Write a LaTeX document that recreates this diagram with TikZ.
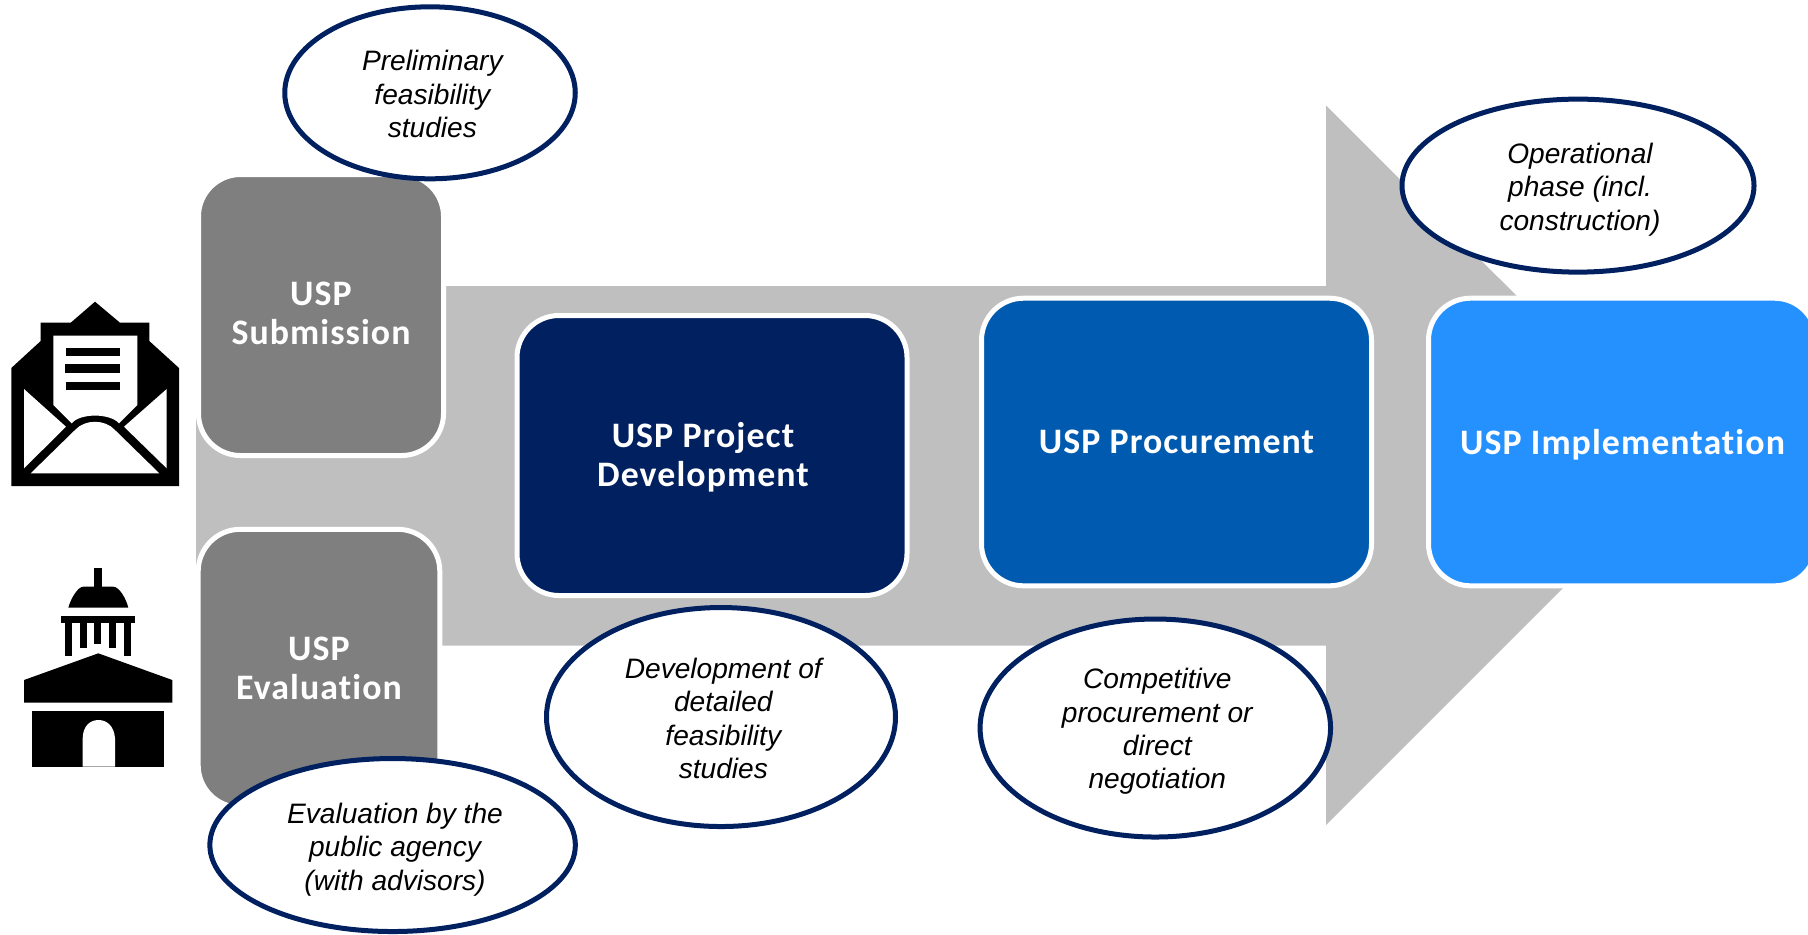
\documentclass[tikz,border=0pt]{standalone}
\usepackage{fontspec}
\setmainfont{Liberation Sans}
\newfontfamily\stagefont[LetterSpace=3,Ligatures=NoCommon]{Carlito}
\usepackage{tikz}
\usetikzlibrary{shapes.geometric,positioning,calc}
\definecolor{arrowgray}{HTML}{BFBFBF}
\definecolor{boxgray}{HTML}{7F7F7F}
\definecolor{uspnavy}{HTML}{002060}
\definecolor{uspblue}{HTML}{005BB0}
\definecolor{usplight}{HTML}{2491FF}
\tikzset{
	stagetext/.style={align=center,text=white,font=\stagefont\fontsize{10.2}{11.1}\bfseries\selectfont,inner sep=0pt},
	stagebox/.style={stagetext,draw=white,line width=0.05cm,rounded corners=0.42cm},
	noteoval/.style={ellipse,draw=uspnavy,fill=white,line width=0.05cm,inner sep=0pt},
	notetext/.style={align=center,inner sep=0pt,font=\fontsize{8}{9.5}\itshape\selectfont},
}
\begin{document}
\begin{tikzpicture}[x=1cm,y=-1cm]
	\useasboundingbox (0,0) rectangle (18.08,9.34);
	%big arrow behind the stages
	\fill[arrowgray] (1.96,2.86) -- (13.26,2.86) -- (13.26,1.055) -- (16.86,4.65) -- (13.26,8.25) -- (13.26,6.457) -- (1.96,6.457) -- cycle;

	%stages
	\node[stagebox,fill=boxgray,minimum width=2.45cm,minimum height=2.81cm] (submission) at (3.21,3.15) {};
	\node[stagetext] (submissiontext) at (3.21,3.13) {USP\\Submission};
	\node[stagebox,fill=boxgray,minimum width=2.416cm,minimum height=2.78cm] (evaluation) at (3.19,6.683) {USP\\Evaluation};
	\node[stagebox,fill=uspnavy,minimum width=3.90cm,minimum height=2.80cm] (development) at (7.12,4.555) {};
	\node[stagetext] (developmenttext) at (7.03,4.57) {USP Project\\Development};
	\node[stagebox,fill=uspblue,minimum width=3.90cm,minimum height=2.876cm] (procurement) at (11.765,4.42) {USP Procurement};
	\node[stagebox,fill=usplight,text depth=0pt,minimum width=3.88cm,minimum height=2.876cm] (implementation) at (16.225,4.42) {USP Implementation};

	%notes
	\node[noteoval,minimum width=2.905cm,minimum height=1.72cm] (feasibility) at (4.30,0.928) {};
	\node[notetext] (feasibilitytext) at (4.323,0.942) {Preliminary\\feasibility\\studies};
	\node[noteoval,minimum width=3.52cm,minimum height=1.73cm] (operational) at (15.78,1.856) {};
	\node[notetext] (operationaltext) at (15.80,1.896) {Operational\\phase (incl.\\construction)};
	\node[noteoval,minimum width=3.49cm,minimum height=2.19cm] (detailed) at (7.21,7.17) {};
	\node[notetext] (detailedtext) at (7.233,7.185) {Development of\\detailed\\feasibility\\studies};
	\node[noteoval,minimum width=3.505cm,minimum height=2.18cm] (negotiation) at (11.553,7.28) {};
	\node[notetext] (negotiationtext) at (11.573,7.315) {Competitive\\procurement or\\direct\\negotiation};
	\node[noteoval,minimum width=3.655cm,minimum height=1.73cm] (agency) at (3.926,8.45) {};
	\node[notetext] (agencytext) at (3.95,8.496) {Evaluation by the\\public agency\\(with advisors)};

	%envelope
	\fill[black] (0.113,3.68) -- (0.407,3.41) -- (0.407,3.227) -- (0.707,3.227) -- (0.95,3.017) -- (1.20,3.227) -- (1.493,3.227) -- (1.493,3.41) -- (1.79,3.68) -- (1.79,4.86) -- (0.113,4.86) -- cycle;
	\fill[white] (0.533,3.357) -- (1.373,3.357) -- (1.373,4.05) -- (1.19,4.233) .. controls (1.10,4.13) and (0.80,4.13) .. (0.717,4.233) -- (0.533,4.05) -- cycle;
	\fill[black] (0.657,3.48) rectangle (1.20,3.563);
	\fill[black] (0.65,3.643) rectangle (1.20,3.73);
	\fill[black] (0.657,3.817) rectangle (1.20,3.897);
	\fill[white] (0.24,3.89) -- (0.66,4.267) -- (0.24,4.683) -- cycle;
	\fill[white] (1.667,3.89) -- (1.24,4.267) -- (1.667,4.683) -- cycle;
	\fill[white] (0.307,4.733) -- (0.75,4.30) .. controls (0.85,4.19) and (1.05,4.19) .. (1.15,4.30) -- (1.593,4.733) -- cycle;

	%public building
	\fill[black] (0.94,5.683) rectangle (1.017,5.867);
	\fill[black] (0.683,6.077) .. controls (0.71,5.98) and (0.78,5.867) .. (0.833,5.867) -- (1.133,5.867) .. controls (1.19,5.867) and (1.26,5.98) .. (1.283,6.077) -- cycle;
	\fill[black] (0.61,6.16) rectangle (1.35,6.233);
	\foreach \colx/\coly in {0.65/6.56,0.80/6.483,0.94/6.443,1.09/6.483,1.24/6.56}
		\fill[black] (\colx,6.20) rectangle (\colx+0.07,\coly);
	\fill[black] (0.24,6.80) -- (0.983,6.533) -- (1.723,6.80) -- (1.723,7.027) -- (0.24,7.027) -- cycle;
	\fill[black] (0.32,7.11) rectangle (1.64,7.667);
	\fill[white] (0.827,7.667) -- (0.827,7.38) .. controls (0.83,7.26) and (0.90,7.20) .. (0.985,7.20) .. controls (1.07,7.20) and (1.14,7.26) .. (1.15,7.38) -- (1.15,7.667) -- cycle;
\end{tikzpicture}
\end{document}
